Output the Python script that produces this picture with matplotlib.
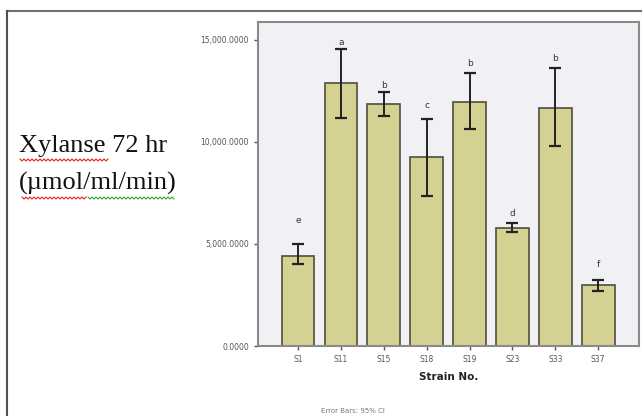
import numpy as np
import matplotlib
matplotlib.use('Agg')
import matplotlib.pyplot as plt
from matplotlib.lines import Line2D
from matplotlib.ticker import FuncFormatter

strains = ['S1', 'S11', 'S15', 'S18', 'S19', 'S23', 'S33', 'S37']
means = [4430, 12890, 11860, 9250, 11940, 5800, 11650, 2990]
ci_low = [4000, 11190, 11260, 7350, 10640, 5570, 9790, 2710]
ci_high = [4990, 14540, 12430, 11140, 13370, 6010, 13610, 3240]
letters = ['e', 'a', 'b', 'c', 'b', 'd', 'b', 'f']

fig = plt.figure(figsize=(6.42, 4.16), dpi=100)
fig.patch.set_facecolor('white')

# slide frame lines
fig.add_artist(Line2D([7/642, 1], [1 - 11/416, 1 - 11/416], color='#707070', lw=1.5))
fig.add_artist(Line2D([7/642, 7/642], [0, 1 - 11/416], color='#505050', lw=1.5))

ax = fig.add_axes([258/642, 1 - 346/416, (639 - 258)/642, (346 - 22)/416])
ax.set_facecolor('#F0F0F5')

x = np.arange(len(strains))
yerr = [np.array(means) - np.array(ci_low), np.array(ci_high) - np.array(means)]
ax.bar(x, means, width=0.76, color='#D4D192', edgecolor='#4f4f3c', linewidth=1.2, zorder=2)
ax.errorbar(x, means, yerr=yerr, fmt='none', ecolor='#222222', elinewidth=1.4,
            capsize=4.5, capthick=1.6, zorder=3)

offs = [14, 2, 2, 6, 4, 4, 4, 8]
for xi, hi, lt, o in zip(x, ci_high, letters, offs):
    ax.annotate(lt, (xi, hi), xytext=(0, o), textcoords='offset points',
                ha='center', va='bottom', fontsize=6.5, color='#3a3050')

ax.set_xlim(-0.93, 7.95)
ax.set_ylim(0, 15880)
ax.set_yticks([0, 5000, 10000, 15000])
ax.yaxis.set_major_formatter(FuncFormatter(lambda v, p: f'{v:,.4f}'))
ax.set_xticks(x)
ax.set_xticklabels(strains)
ax.tick_params(axis='both', labelsize=5.5, labelcolor='#555555', color='#555555',
               length=3, width=1)
for s in ax.spines.values():
    s.set_color('#8a8a8a')
    s.set_linewidth(1.5)
ax.set_xlabel('Strain No.', fontsize=7.5, fontweight='bold', color='#222222', labelpad=6)

fig.text(0.55, 1 - 411/416, 'Error Bars: 95% CI', fontsize=5, color='#777777',
         ha='center', va='center')

tkw = dict(family='Liberation Serif', fontsize=19, color='#111111', va='center', ha='left')
fig.text(19/642, 1 - 146/416, 'Xylanse 72 hr', **tkw)
fig.text(19/642, 1 - 183/416, '(µmol/ml/min)', **tkw)

# spell-check squiggles
def squiggle(x0, x1, y, col):
    xs = np.arange(x0, x1, 2.0)
    ys = y + np.where(np.arange(len(xs)) % 2 == 0, -1.0, 1.0)
    fig.add_artist(Line2D(xs / 642, 1 - ys / 416, color=col, lw=0.8))

squiggle(20, 110, 160, '#e02020')
squiggle(22, 88, 198, '#e02020')
squiggle(88, 176, 198, '#30a030')

fig.savefig('out.png', dpi=100)
